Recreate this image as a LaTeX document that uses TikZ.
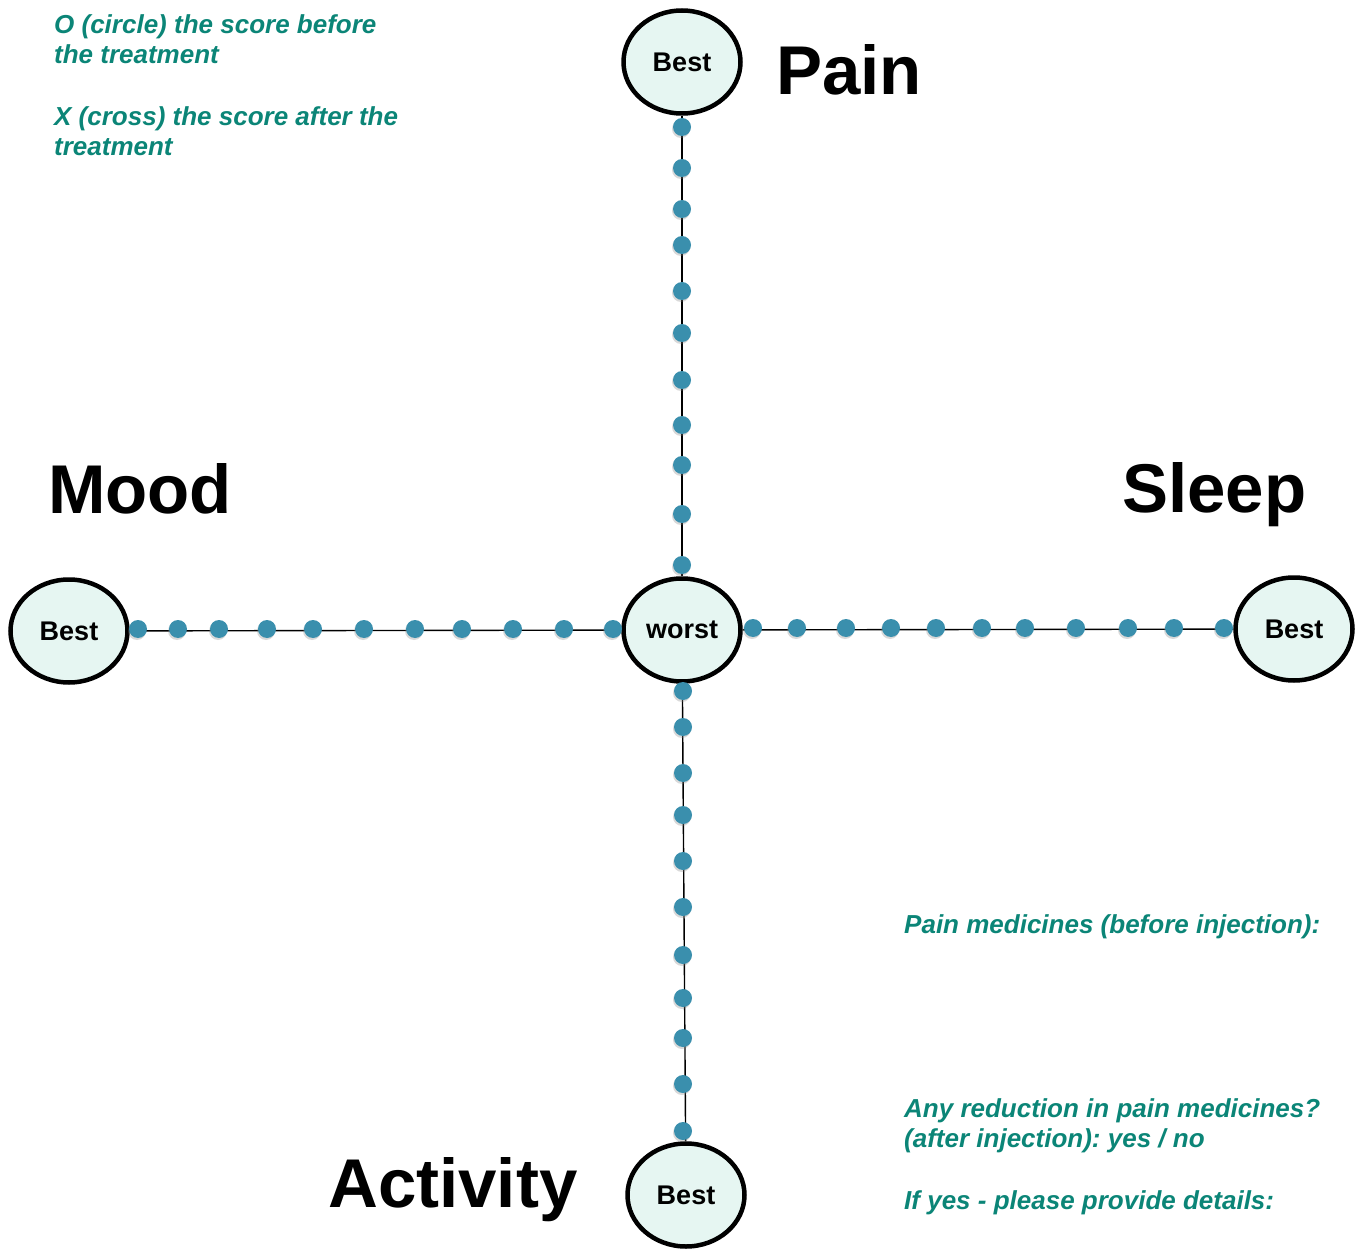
\documentclass[tikz,border=0pt]{standalone}
\usepackage{fontspec}
\setmainfont{Liberation Sans}
\usetikzlibrary{shapes.geometric,shadows}
\definecolor{mint}{HTML}{E6F6F2}
\definecolor{dotblue}{HTML}{3A8FAD}
\definecolor{noteteal}{HTML}{0B8577}
\frenchspacing
\tikzset{
  scorenode/.style={ellipse, draw=black, line width=4.5pt, fill=mint, minimum width=117pt, minimum height=103pt, inner sep=0pt, font=\fontsize{27}{30}\selectfont\bfseries},
  axislabel/.style={anchor=base west, inner sep=0pt, font=\fontsize{69}{80}\selectfont\bfseries},
  note/.style={anchor=north west, inner sep=0pt, align=left, text=noteteal, font=\fontsize{26}{30.7}\selectfont\bfseries\itshape},
  tick/.style={fill=dotblue, drop shadow={opacity=0.3, shadow xshift=-1pt, shadow yshift=-2pt}}
}
\begin{document}
\begin{tikzpicture}[x=1pt,y=-1pt]
    \useasboundingbox (0,0) rectangle (1361,1249);
    % circles
    \node[scorenode] (worst) at (682,630) {worst};
    \node[scorenode] (painbest) at (682,62) {Best};
    \node[scorenode] (moodbest) at (69,631) {Best};
    \node[scorenode] (sleepbest) at (1294,629) {Best};
    \node[scorenode] (actbest) at (686,1195) {Best};
    % axes
    \draw[line width=1.4pt] (worst) -- (painbest);
    \draw[line width=1.4pt] (worst) -- (moodbest);
    \draw[line width=1.4pt] (worst) -- (sleepbest);
    \draw[line width=1.4pt] (worst) -- (actbest);
    % score points
    \foreach \y in {127,168,209,245,291,333,380,425,465,514,565}
        \fill[tick] (682,\y) circle (9pt);
    \foreach \y in {691,727,773,815,861,907,955,998,1038,1084,1131}
        \fill[tick] (683,\y) circle (9pt);
    \foreach \x in {138,178,219,267,313,364,415,462,513,564,613}
        \fill[tick] (\x,629) circle (9pt);
    \foreach \x in {753,797,846,891,936,982,1025,1076,1128,1174,1224}
        \fill[tick] (\x,628) circle (9pt);
    % labels
    \node[axislabel] (pain) at (776,95) {Pain};
    \node[axislabel] (mood) at (48,513) {Mood};
    \node[axislabel] (sleep) at (1122,512) {Sleep};
    \node[axislabel] (activity) at (328,1207) {Activity};
    % notes
    \node[note] (legend) at (54,14) {O (circle) the score before\\the treatment\\[30.7pt]X (cross) the score after the\\treatment};
    \node[note] (meds) at (904,914) {Pain medicines (before injection):};
    \node[note] (reduction) at (904,1098) {Any reduction in pain medicines?\\(after injection): yes / no\\[30.7pt]If yes - please provide details:};
\end{tikzpicture}
\end{document}
